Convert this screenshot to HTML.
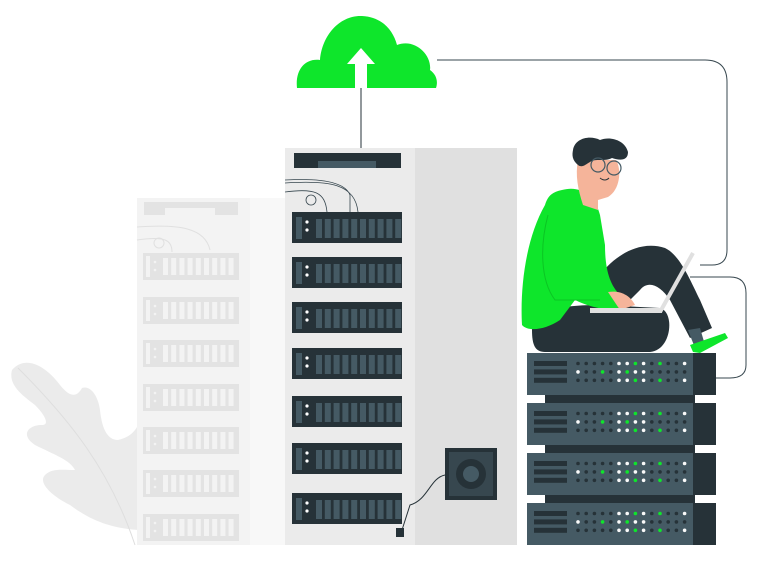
<!DOCTYPE html>
<html><head><meta charset="utf-8"><style>html,body{margin:0;padding:0;background:#fff}svg{display:block}</style></head>
<body>
<svg id="s" width="768" height="563" viewBox="0 0 768 563" xmlns="http://www.w3.org/2000/svg">
<!-- leaf -->
<path d="M12,370 C25,355 45,365 60,385 C72,400 78,395 82,388 C90,385 98,395 100,410 C102,430 108,440 118,440 C128,438 135,432 138,425 L138,530 C110,528 90,520 70,505 C50,495 38,482 45,475 C52,468 62,470 75,470 C70,460 55,455 35,445 C20,435 28,425 42,425 C50,425 45,415 35,405 C22,395 8,385 12,370 Z" fill="#ebebeb"/>
<path d="M18,368 C70,420 110,470 135,545" stroke="#dedede" fill="none" stroke-width="1"/>
<!-- faded rack -->
<rect x="137" y="198" width="113" height="347" fill="#f3f3f3"/>
<rect x="250" y="198" width="35" height="347" fill="#f8f8f8"/>
<rect x="144" y="202" width="94" height="13" fill="#e3e3e3"/>
<rect x="165" y="208" width="50" height="7" fill="#f3f3f3"/>
<path d="M137,227 C180,224 205,228 210,250 M137,240 C165,236 172,240 172,252" stroke="#e0e0e0" fill="none"/>
<circle cx="159" cy="243" r="5" fill="none" stroke="#e0e0e0"/>
<g id="fr"></g>
<!-- main rack -->
<rect x="285" y="148" width="130" height="397" fill="#ebebeb"/>
<rect x="415" y="148" width="102" height="397" fill="#e0e0e0"/>
<rect x="294" y="153" width="107" height="15" fill="#263238"/>
<rect x="318" y="161" width="58" height="7" fill="#455a64"/>
<path d="M285,180 C320,178 345,182 350,195 L350,212 M285,192 C315,188 325,192 327,212 M285,183 C330,180 355,184 358,212" stroke="#37474f" stroke-width="0.8" fill="none"/>
<circle cx="311" cy="200" r="5" fill="none" stroke="#37474f" stroke-width="0.8"/>
<g id="mr"></g>
<!-- fan -->
<rect x="445" y="448" width="52" height="52" fill="#263238"/>
<rect x="449" y="452" width="44" height="44" fill="#37474f"/>
<circle cx="471" cy="474" r="15" fill="#263238"/>
<circle cx="471" cy="474" r="8" fill="#455a64"/>
<path d="M445,475 C430,478 428,500 410,505 L402,530" stroke="#263238" fill="none"/>
<rect x="396" y="528" width="8" height="9" fill="#263238"/>
<!-- cloud -->
<line x1="361" y1="88" x2="361" y2="148" stroke="#263238" stroke-width="1"/>
<path d="M297,88 C295,70 305,58 320,60 C322,35 340,15 362,16 C382,17 393,30 397,45 C415,38 432,55 430,70 C437,75 438,82 436,88 Z" fill="#0ee62b"/>
<path d="M361,48 L375,64 L367,64 L367,88 L355,88 L355,64 L347,64 Z" fill="#fff"/>
<!-- connectors -->
<path d="M437,60 L705,60 Q727,60 727,82 L727,250 Q727,265 712,265 L700,265" stroke="#37474f" fill="none" stroke-width="1"/>
<path d="M690,277 L730,277 Q746,277 746,293 L746,365 Q746,378 730,378 L716,378" stroke="#37474f" fill="none" stroke-width="1"/>
<!-- server stack -->
<rect x="545" y="390" width="150" height="155" fill="#263238"/>
<g id="ss"></g>
<!-- person -->
<path d="M532,330 C532,310 560,305 600,305 L660,308 C675,312 672,350 650,352 L545,352 C535,352 532,345 532,330 Z" fill="#263238"/>
<path d="M600,275 C615,255 640,240 665,248 C680,255 690,280 700,300 L712,328 L690,338 L670,300 C660,285 648,280 640,290 L620,310 Z" fill="#263238"/>
<path d="M562,190 C580,185 595,195 600,215 L605,245 C605,270 610,285 620,295 L618,310 C600,310 585,305 575,300 L560,320 C545,330 528,332 522,325 C520,290 525,240 545,205 C548,195 553,192 562,190 Z" fill="#0ee62b"/>
<path d="M548,215 C540,245 540,280 555,300 L600,300" stroke="#0bc523" fill="none" stroke-width="1"/>
<path d="M608,292 C620,290 630,295 635,305 L620,310 Z" fill="#f5b49a"/>
<path d="M578,160 L616,160 C622,170 620,190 608,197 L598,200 L598,210 L583,205 C578,190 575,175 578,160 Z" fill="#f5b49a"/>
<path d="M573,150 C575,138 590,135 600,140 C610,136 625,140 628,152 C628,162 618,160 612,158 C605,162 595,158 590,162 C585,165 582,168 578,165 C572,160 572,155 573,150 Z" fill="#263238"/>
<circle cx="598" cy="165" r="7" fill="none" stroke="#455a64" stroke-width="1.2"/>
<circle cx="614" cy="168" r="7" fill="none" stroke="#455a64" stroke-width="1.2"/>
<path d="M600,178 Q605,182 609,178" stroke="#263238" fill="none"/>
<path d="M693,253 L660,312" stroke="#e0e0e0" stroke-width="4" fill="none"/>
<rect x="590" y="308" width="72" height="5" fill="#e0e0e0"/>
<path d="M688,330 L700,328 L705,345 L695,348 Z" fill="#455a64"/>
<path d="M690,345 L725,333 L728,338 L700,353 L693,352 Z" fill="#0ee62b"/>
</svg>
<script>
var NS="http://www.w3.org/2000/svg";
function r(g,x,y,w,h,f){var e=document.createElementNS(NS,"rect");e.setAttribute("x",x);e.setAttribute("y",y);e.setAttribute("width",w);e.setAttribute("height",h);e.setAttribute("fill",f);g.appendChild(e);}
function c(g,x,y,rr,f){var e=document.createElementNS(NS,"circle");e.setAttribute("cx",x);e.setAttribute("cy",y);e.setAttribute("r",rr);e.setAttribute("fill",f);g.appendChild(e);}
var fr=document.getElementById("fr");
[253,297,340,384,427,470,514].forEach(function(y){r(fr,143,y,96,27,"#e3e3e3");r(fr,146,y+3,4,21,"#f3f3f3");c(fr,155,y+9,1.3,"#f3f3f3");c(fr,155,y+17,1.3,"#f3f3f3");for(var i=0;i<9;i++)r(fr,163+i*8.2,y+5,5,17,"#f3f3f3");});
var mr=document.getElementById("mr");
[212,257,302,348,396,443,493].forEach(function(y){r(mr,292,y,110,31,"#263238");r(mr,296,y+5,6,22,"#455a64");c(mr,307,y+10,1.6,"#fff");c(mr,307,y+18,1.6,"#fff");for(var i=0;i<10;i++)r(mr,316+i*8.8,y+7,6,19,"#455a64");});
var ss=document.getElementById("ss");
var pat=[[0,0,0,0,0,1,1,2,1,0,2,0,0,1],[1,0,0,2,0,1,2,1,1,0,0,0,0,0],[0,0,0,0,0,1,1,2,1,0,2,0,0,1]];
var col=["#263238","#fafafa","#0ee62b"];
[353,403,453,503].forEach(function(y){r(ss,527,y,166,42,"#455a64");r(ss,693,y,23,42,"#263238");for(var k=0;k<3;k++){r(ss,534,y+8+k*8.4,33,5,"#263238");for(var i=0;i<14;i++)c(ss,578+i*8.2,y+10.5+k*8.4,1.8,col[pat[k][i]]);}});
</script>
</body></html>
